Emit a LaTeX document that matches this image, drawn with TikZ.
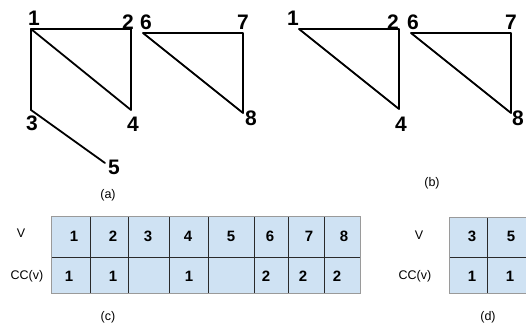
\documentclass[tikz,border=0pt]{standalone}
\usepackage{fontspec}
\setmainfont{Liberation Sans}
\definecolor{cellblue}{HTML}{CFE2F3}
\definecolor{outergray}{HTML}{9A9A9A}
\definecolor{innerdark}{HTML}{2A2A2A}
\begin{document}
\begin{tikzpicture}[x=1pt,y=-1pt,
  edge/.style={line width=1.8pt, line cap=round, line join=round},
  vlabel/.style={font=\fontsize{21}{21}\selectfont\bfseries, inner sep=0pt},
  captxt/.style={font=\fontsize{12.5}{12.5}\selectfont, inner sep=0pt},
  cellnum/.style={font=\fontsize{15}{15}\selectfont\bfseries, inner sep=0pt},
  cellbox/.style={fill=cellblue, draw=innerdark, line width=0.6pt},
  outerbox/.style={draw=outergray, line width=0.9pt}]
\useasboundingbox (0,0) rectangle (526,325);
% ---- graph (a)
\coordinate (a1) at (31,29);
\coordinate (a2) at (131,29);
\coordinate (a3) at (31,110);
\coordinate (a4) at (131,110);
\coordinate (a5) at (105,163);
\coordinate (a6) at (143,33);
\coordinate (a7) at (243,33);
\coordinate (a8) at (243,113);
\draw[edge] (a1) -- (a2) -- (a4) -- cycle;
\draw[edge] (a1) -- (a3) -- (a5);
\draw[edge] (a6) -- (a7) -- (a8) -- cycle;
\node[vlabel] (la1) at (34,18) {1};
\node[vlabel] (la2) at (128,22) {2};
\node[vlabel] (la6) at (146,22) {6};
\node[vlabel] (la7) at (243,22) {7};
\node[vlabel] (la3) at (32,123) {3};
\node[vlabel] (la4) at (133,124) {4};
\node[vlabel] (la5) at (114,167) {5};
\node[vlabel] (la8) at (251,118) {8};
\node[captxt] (capa) at (108,195) {(a)};
% ---- graph (b)
\coordinate (b1) at (299,29);
\coordinate (b2) at (399,29);
\coordinate (b4) at (399,109);
\coordinate (b6) at (411,33);
\coordinate (b7) at (511,33);
\coordinate (b8) at (511,113);
\draw[edge] (b1) -- (b2) -- (b4) -- cycle;
\draw[edge] (b6) -- (b7) -- (b8) -- cycle;
\node[vlabel] (lb1) at (293,18) {1};
\node[vlabel] (lb2) at (393,22) {2};
\node[vlabel] (lb6) at (413,22) {6};
\node[vlabel] (lb7) at (511,22) {7};
\node[vlabel] (lb4) at (401,124) {4};
\node[vlabel] (lb8) at (518,118) {8};
\node[captxt] (capb) at (432,183) {(b)};
% ---- table (c)
\foreach \xa/\xb in {51/90,90/128,128/169,169/208,208/254,254/288,288/324,324/360}{
  \draw[cellbox] (\xa,216) rectangle (\xb,257);
  \draw[cellbox] (\xa,257) rectangle (\xb,293);
}
\draw[outerbox] (51,216) rectangle (360,293);
\foreach \x/\t in {74/1,113/2,148/3,188/4,231/5,270/6,309/7,344/8}{
  \node[cellnum] at (\x,236) {\t};
}
\foreach \x/\t in {69/1,113/1,189/1,266/2,303/2,337/2}{
  \node[cellnum] at (\x,276) {\t};
}
\node[captxt] (vc) at (21,233) {V};
\node[captxt] (ccc) at (27,276) {CC(v)};
\node[captxt] (capc) at (108,317) {(c)};
% ---- table (d)
\foreach \xa/\xb in {449/487,487/527}{
  \draw[cellbox] (\xa,217) rectangle (\xb,257);
  \draw[cellbox] (\xa,257) rectangle (\xb,293);
}
\draw[outerbox] (449,217) -- (527,217);
\draw[outerbox] (449,217) -- (449,293) -- (527,293);
\node[cellnum] at (472,236) {3};
\node[cellnum] at (511,236) {5};
\node[cellnum] at (472,276) {1};
\node[cellnum] at (510,276) {1};
\node[captxt] (vd) at (419,235) {V};
\node[captxt] (ccd) at (415,276) {CC(v)};
\node[captxt] (capd) at (488,317) {(d)};
\end{tikzpicture}
\end{document}
